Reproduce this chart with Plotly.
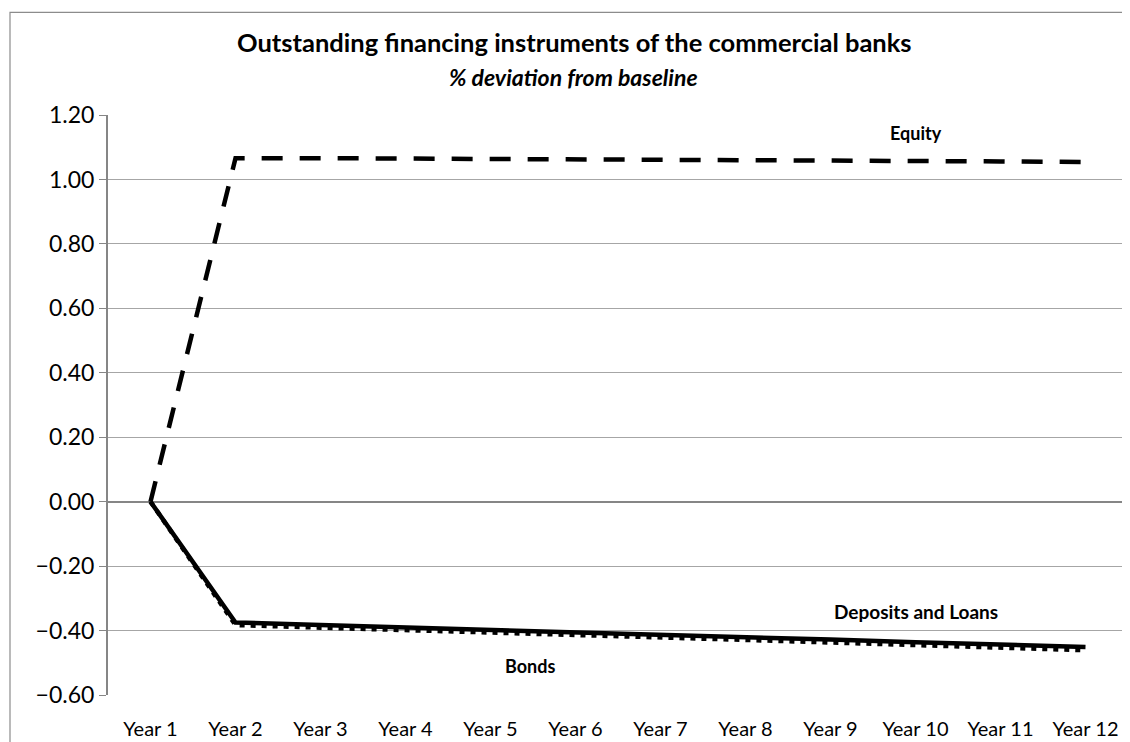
import plotly.graph_objects as go

years = ["Year 1", "Year 2", "Year 3", "Year 4", "Year 5", "Year 6",
         "Year 7", "Year 8", "Year 9", "Year 10", "Year 11", "Year 12"]
equity = [0.0, 1.066, 1.066, 1.065, 1.065, 1.064, 1.063, 1.062, 1.060, 1.058, 1.056, 1.054]
deposits_loans = [0.0, -0.375, -0.383, -0.390, -0.398, -0.405, -0.413, -0.421, -0.428, -0.436, -0.443, -0.451]
bonds = [0.0, -0.383, -0.391, -0.398, -0.406, -0.414, -0.421, -0.429, -0.437, -0.445, -0.453, -0.461]
y_ticks = [-0.6, -0.4, -0.2, 0.0, 0.2, 0.4, 0.6, 0.8, 1.0, 1.2]

FONT = "Lato, 'Open Sans', sans-serif"

W, H = 1130, 742
ML, MR, MT, MB = 100, 10, 107, 47
PW, PH = W - ML - MR, H - MT - MB


def px_to_paper_y(py):
    return 1 - (py - MT) / PH


def px_to_paper_x(px):
    return (px - ML) / PW


fig = go.Figure()
fig.add_trace(go.Scatter(x=years, y=bonds, mode="lines", name="Bonds",
                         line=dict(color="black", width=4.5, dash="5px,6px")))
fig.add_trace(go.Scatter(x=years, y=deposits_loans, mode="lines", name="Deposits and Loans",
                         line=dict(color="black", width=4.5)))
fig.add_trace(go.Scatter(x=years, y=equity, mode="lines", name="Equity",
                         line=dict(color="black", width=4.5, dash="21px,17px")))

fig.add_annotation(x=9.0, y=1.145, xref="x", yref="y", text="<b>Equity</b>",
                   showarrow=False, yanchor="middle",
                   font=dict(size=18, color="black", family=FONT))
fig.add_annotation(x=9.0, y=-0.34, xref="x", yref="y", text="<b>Deposits and Loans</b>",
                   showarrow=False, yanchor="middle",
                   font=dict(size=19, color="black", family=FONT))
fig.add_annotation(x=4.46, y=-0.51, xref="x", yref="y", text="<b>Bonds</b>",
                   showarrow=False, yanchor="middle",
                   font=dict(size=18, color="black", family=FONT))

# title & subtitle
fig.add_annotation(x=px_to_paper_x(566), y=px_to_paper_y(33), xref="paper", yref="paper",
                   text="<b>Outstanding financing instruments of the commercial banks</b>",
                   showarrow=False, xanchor="center", yanchor="middle",
                   font=dict(size=25.5, color="black", family=FONT))
fig.add_annotation(x=px_to_paper_x(565), y=px_to_paper_y(68), xref="paper", yref="paper",
                   text="<b><i>% deviation from baseline</i></b>",
                   showarrow=False, xanchor="center", yanchor="middle",
                   font=dict(size=23, color="black", family=FONT))

# outer chart border
fig.add_shape(type="rect", xref="paper", yref="paper",
              x0=px_to_paper_x(2), x1=px_to_paper_x(1133),
              y0=px_to_paper_y(745), y1=px_to_paper_y(3),
              line=dict(color="#8c8c8c", width=1.2), fillcolor="rgba(0,0,0,0)")

fig.update_layout(
    width=W, height=H,
    margin=dict(l=ML, r=MR, t=MT, b=MB),
    paper_bgcolor="white", plot_bgcolor="white",
    showlegend=False,
    font=dict(family=FONT, color="black"),
)
fig.update_xaxes(
    type="category", range=[-0.5, 11.5], showgrid=False,
    showline=False, ticks="", ticklabelstandoff=20,
    tickfont=dict(size=20, color="black", family=FONT),
)
fig.update_yaxes(
    range=[-0.6, 1.2], tickvals=y_ticks, tickformat=".2f",
    showgrid=True, gridcolor="#a6a6a6", gridwidth=1,
    zeroline=True, zerolinecolor="#868686", zerolinewidth=1.5,
    showline=True, linecolor="#868686", linewidth=2,
    ticks="outside", ticklen=7, tickcolor="#868686",
    tickfont=dict(size=23, color="black", family=FONT),
)

fig.write_html("out.html")
